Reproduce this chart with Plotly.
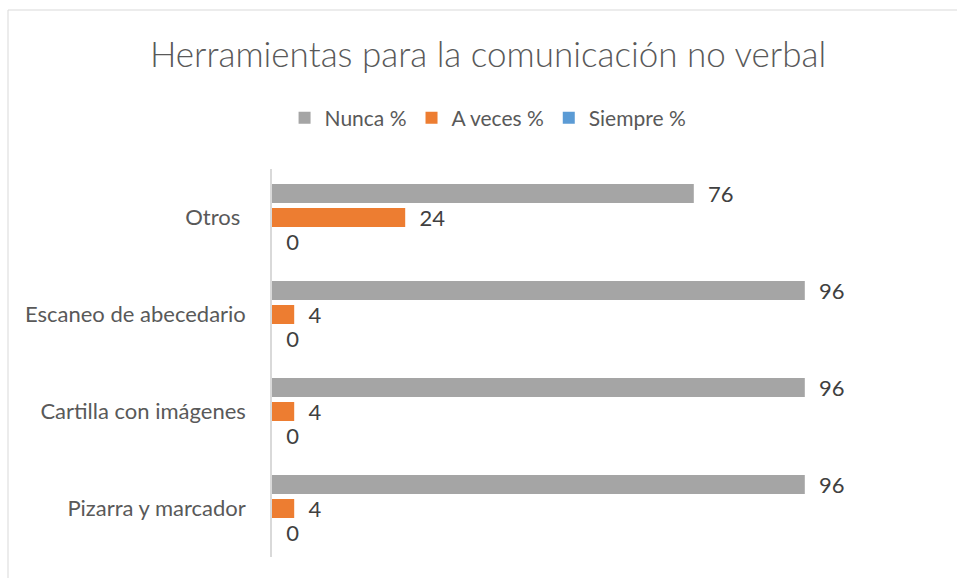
import plotly.graph_objects as go

categorias = ["Pizarra y marcador", "Cartilla con imágenes", "Escaneo de abecedario", "Otros "]
nunca = [96, 96, 96, 76]
a_veces = [4, 4, 4, 24]
siempre = [0, 0, 0, 0]

series = [
    ("Siempre %", siempre, "#5B9BD5"),
    ("A veces %", a_veces, "#ED7D31"),
    ("Nunca %", nunca, "#A5A5A5"),
]

W, H = 957, 578
L, R, T, B = 272, 130, 169, 21
pw, ph = W - L - R, H - T - B


def px_x(x):
    return (x - L) / pw


def px_y(y):
    return (H - B - y) / ph


fig = go.Figure()
for nombre, valores, color in series:
    fig.add_trace(
        go.Bar(
            y = categorias,
            x = valores,
            name = nombre,
            orientation = "h",
            marker = dict(color = color, line = dict(width = 0)),
            text = valores,
            texttemplate = "\u00a0\u00a0%{x}",
            textposition = "outside",
            constraintext = "none",
            textfont = dict(size = 22, color = "#404040", family = "Lato"),
            cliponaxis = False,
        )
    )

# borde del gráfico
fig.add_shape(type = "line", xref = "paper", yref = "paper",
              x0 = px_x(8), x1 = px_x(W + 5), y0 = px_y(10), y1 = px_y(10),
              line = dict(color = "#D9D9D9", width = 1))
fig.add_shape(type = "line", xref = "paper", yref = "paper",
              x0 = px_x(8), x1 = px_x(8), y0 = px_y(10), y1 = px_y(H + 5),
              line = dict(color = "#D9D9D9", width = 1))

fig.update_layout(
    width = W,
    height = H,
    margin = dict(l = L, r = R, t = T, b = B),
    paper_bgcolor = "white",
    plot_bgcolor = "white",
    barmode = "group",
    bargap = 0.258,
    bargroupgap = 0.21,
    font = dict(family = "Lato", color = "#595959"),
    title = dict(
        text = "Herramientas para la comunicación no verbal",
        x = 0.51, xanchor = "center",
        y = 1 - 55 / H, yanchor = "middle",
        font = dict(size = 35, color = "#595959", family = "Lato", weight = 300),
    ),
    legend = dict(
        orientation = "h",
        traceorder = "reversed",
        x = 0.51, xanchor = "center",
        y = 1 - 118 / H, yanchor = "middle",
        xref = "container", yref = "container",
        font = dict(size = 21, color = "#595959"),
        itemwidth = 30,
    ),
    showlegend = True,
)

fig.update_xaxes(range = [0, 100], visible = False, showgrid = False, zeroline = False)
fig.update_yaxes(
    showline = True, linecolor = "#D9D9D9", linewidth = 1.5,
    showgrid = False, ticks = "",
    tickfont = dict(size = 22, color = "#595959"),
    ticklabelstandoff = 20,
)

fig.write_html(
    "out.html",
    config = {"displayModeBar": False},
    post_script = "document.body.style.margin = '0';",
)
